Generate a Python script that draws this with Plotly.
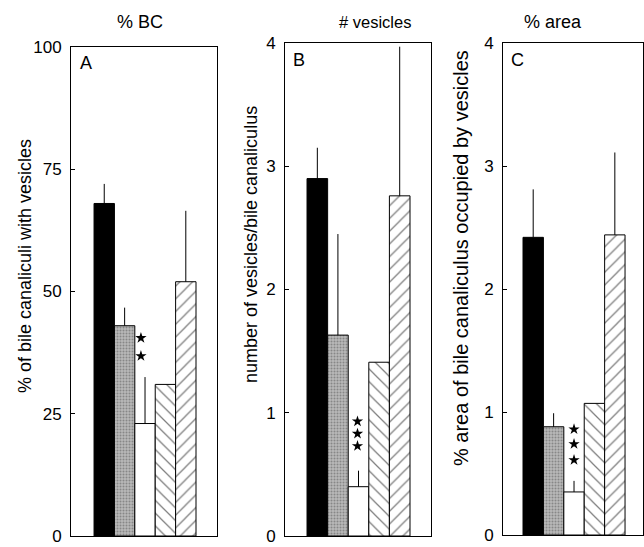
import plotly.graph_objects as go

groups = ["Group 1", "Group 2", "Group 3", "Group 4", "Group 5"]

# Panel A: % of bile canaliculi with vesicles
a_values = [68, 43, 23, 31, 52]
a_err_top = [72, 46.7, 32.5, 31, 66.5]
a_star_y = [40.5, 36.8]
a_ticks = [0, 25, 50, 75, 100]

# Panel B: number of vesicles / bile canaliculus
b_values = [2.9, 1.63, 0.4, 1.41, 2.76]
b_err_top = [3.15, 2.45, 0.53, 1.41, 3.97]
b_star_y = [0.93, 0.83, 0.73]
b_ticks = [0, 1, 2, 3, 4]

# Panel C: % area of bile canaliculus occupied by vesicles
c_values = [2.42, 0.88, 0.35, 1.07, 2.44]
c_err_top = [2.81, 0.99, 0.44, 1.07, 3.11]
c_star_y = [0.86, 0.74, 0.61]
c_ticks = [0, 1, 2, 3, 4]

panel_titles = ["% BC", "# vesicles", "% area"]
panel_letters = ["A", "B", "C"]
y_titles = ["% of bile canaliculi with vesicles",
            "number of vesicles/bile canaliculus",
            "% area of bile canaliculus occupied by vesicles"]

FONT = "Arial, Liberation Sans, Helvetica, sans-serif"
W, H = 644, 547

# bar styles (one per group)
styles = [
    dict(color="black", shape="", fg="black", bg="black", size=8, sol=0.3),
    dict(color="#a6a6a6", shape=".", fg="#555555", bg="#b8b8b8", size=3, sol=0.35),
    dict(color="white", shape="", fg="black", bg="white", size=8, sol=0.3),
    dict(color="white", shape="\\", fg="black", bg="white", size=9, sol=0.14),
    dict(color="white", shape="/", fg="black", bg="white", size=9, sol=0.14),
]

# layout geometry in pixels (left, right, top, bottom) and x ranges
panels = [
    dict(vals=a_values, err=a_err_top, stars=a_star_y, star_x=1.8, ticks=a_ticks,
         ymax=100, px=(71, 217, 47, 536), xr=[-1.63, 5.53]),
    dict(vals=b_values, err=b_err_top, stars=b_star_y, star_x=1.95, ticks=b_ticks,
         ymax=4, px=(285, 431, 43, 536), xr=[-1.57, 5.52]),
    dict(vals=c_values, err=c_err_top, stars=c_star_y, star_x=2.0, ticks=c_ticks,
         ymax=4, px=(503, 643, 43, 535), xr=[-1.48, 5.38]),
]

x_pos = list(range(len(groups)))

fig = go.Figure()
annotations = []
title_pos = [(140, 22), (375, 22), (553, 22)]
title_size = [18, 16.5, 18]
letter_pos = [(86, 63), (299, 60), (517, 60)]
ytitle_pos = [(25, 266), (251, 245), (461, 258)]
ytitle_size = [18, 18, 20]

for i, p in enumerate(panels):
    sfx = "" if i == 0 else str(i + 1)
    xa, ya = "x" + sfx, "y" + sfx
    for j, g in enumerate(groups):
        st = styles[j]
        fig.add_trace(go.Bar(
            x=[x_pos[j]], y=[p["vals"][j]], name=g, xaxis=xa, yaxis=ya, width=1.0,
            marker=dict(color=st["color"], line=dict(color="black", width=1),
                        pattern=dict(shape=st["shape"], fgcolor=st["fg"], bgcolor=st["bg"],
                                     size=st["size"], solidity=st["sol"])),
            error_y=dict(type="data", array=[p["err"][j] - p["vals"][j]], arrayminus=[0],
                         symmetric=False, width=0, thickness=1, color="black"),
            showlegend=False, hoverinfo="skip"))
    fig.add_trace(go.Scatter(
        x=[p["star_x"]] * len(p["stars"]), y=p["stars"], xaxis=xa, yaxis=ya,
        mode="markers", marker=dict(symbol="star", size=8.5, color="black"),
        showlegend=False, hoverinfo="skip"))
    l, r, t, b = p["px"]
    common = dict(showgrid=False, zeroline=False, showline=True, linecolor="black",
                  linewidth=1, mirror=True)
    fig.layout["xaxis" + sfx] = dict(domain=[l / W, r / W], anchor=ya, range=p["xr"],
                                     type="linear", showticklabels=False, ticks="",
                                     **common)
    fig.layout["yaxis" + sfx] = dict(domain=[1 - b / H, 1 - t / H], anchor=xa,
                                     range=[0, p["ymax"]], tickvals=p["ticks"],
                                     ticks="inside", ticklen=4, tickcolor="black",
                                     ticklabelstandoff=5, ticklabeloverflow="allow",
                                     tickfont=dict(family=FONT, size=17, color="black"),
                                     **common)
    ann = dict(xref="paper", yref="paper", showarrow=False, xanchor="center",
               yanchor="middle")
    tx, ty = title_pos[i]
    annotations.append(dict(text=panel_titles[i], x=tx / W, y=1 - ty / H,
                            font=dict(family=FONT, size=title_size[i], color="black"),
                            **ann))
    lx, ly = letter_pos[i]
    annotations.append(dict(text=panel_letters[i], x=lx / W, y=1 - ly / H,
                            font=dict(family=FONT, size=18, color="black"), **ann))
    yx, yy = ytitle_pos[i]
    annotations.append(dict(text=y_titles[i], x=yx / W, y=1 - yy / H, textangle=-90,
                            font=dict(family=FONT, size=ytitle_size[i], color="black"),
                            **ann))

fig.update_layout(width=W, height=H,
                  margin=dict(l=0, r=0, t=0, b=0, autoexpand=False),
                  paper_bgcolor="white", plot_bgcolor="white", barmode="overlay",
                  annotations=annotations)
fig.write_html("out.html", config={"displayModeBar": False},
               post_script="document.body.style.margin='0';"
                           "document.body.style.overflow='hidden';")
